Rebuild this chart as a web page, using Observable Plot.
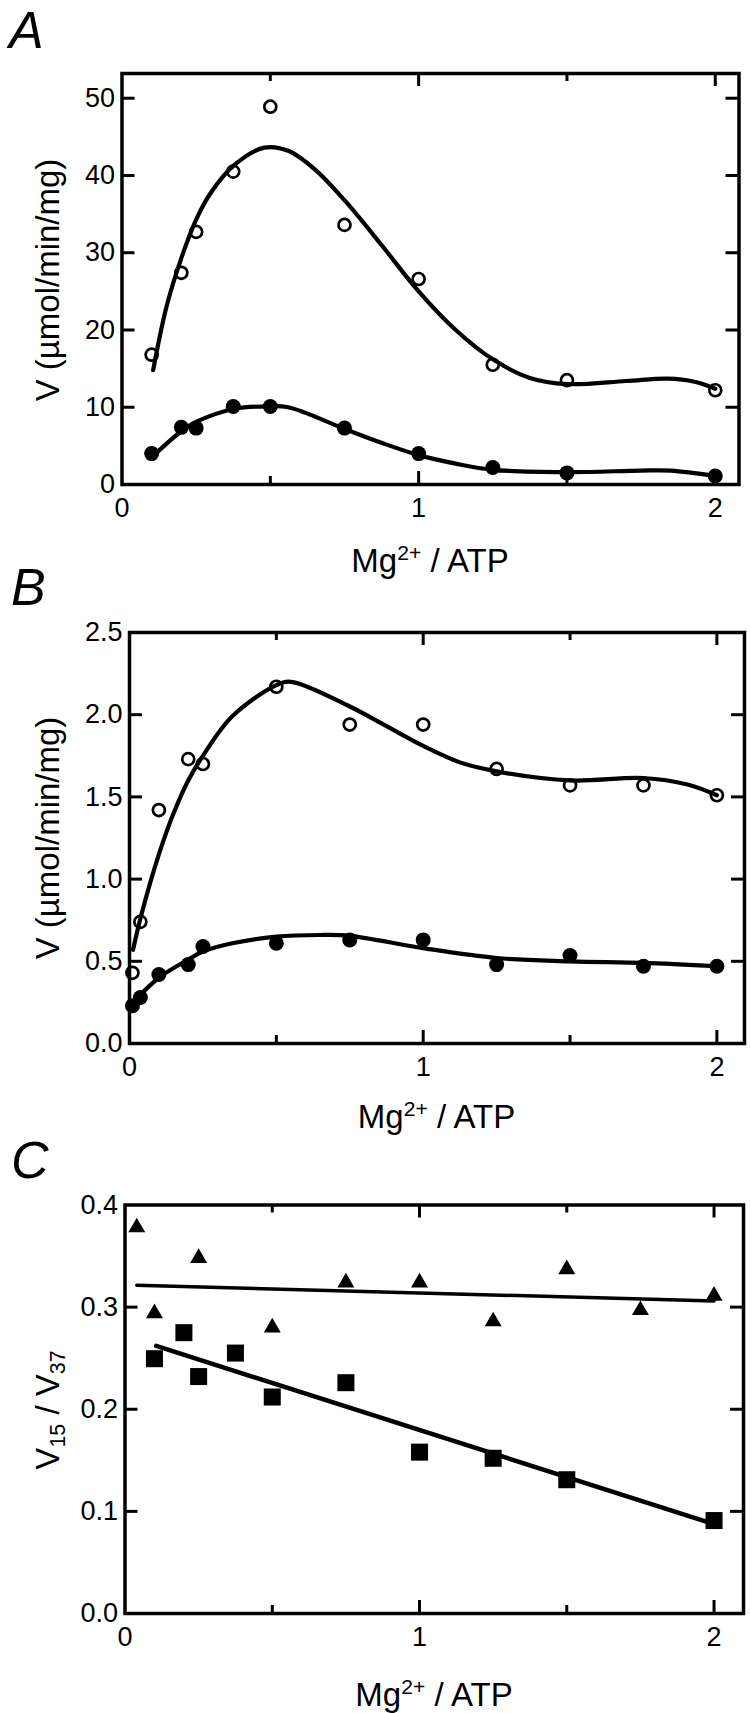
<!DOCTYPE html>
<html><head><meta charset="utf-8">
<script src="https://cdn.jsdelivr.net/npm/d3@7"></script>
<script src="https://cdn.jsdelivr.net/npm/@observablehq/plot@0.6"></script>
<style>
body{margin:0;background:#fff;}
#root{position:relative;width:750px;height:1713px;font-family:"Liberation Sans",Arial,sans-serif;color:#000;overflow:hidden;}
.letter{position:absolute;font-style:italic;font-size:52px;line-height:1;white-space:nowrap;}
.xlab{position:absolute;font-size:33px;line-height:1;white-space:nowrap;transform:translateX(-50%);}
.ylab{position:absolute;font-size:33px;line-height:1;white-space:nowrap;transform:translate(-50%,-50%) rotate(-90deg);}
.sup{font-size:0.64em;position:relative;top:-0.55em;}
.sub{font-size:0.65em;position:relative;top:0.3em;}
</style>
</head>
<body>
<div id="root"></div>
<script>
// ---------- Panel A data ----------
const xA = [0.1, 0.2, 0.25, 0.375, 0.5, 0.75, 1.0, 1.25, 1.5, 2.0];
const openA = [16.8, 27.4, 32.7, 40.5, 48.9, 33.6, 26.6, 15.5, 13.5, 12.2];
const filledA = [4.0, 7.4, 7.3, 10.1, 10.1, 7.3, 4.0, 2.2, 1.5, 1.1];
const fitOpenAx = [0.105, 0.15, 0.2, 0.25, 0.3, 0.38, 0.48, 0.56, 0.65, 0.75, 0.875, 1.0, 1.125, 1.25, 1.375, 1.5, 1.7, 1.84, 1.93, 2.0];
const fitOpenAy = [14.8, 23.0, 29.3, 34.3, 37.8, 41.4, 43.6, 43.2, 40.8, 36.8, 31.0, 25.0, 20.0, 16.2, 13.8, 13.0, 13.4, 13.7, 13.3, 12.4];
const fitFilledAx = [0.105, 0.2, 0.25, 0.38, 0.48, 0.56, 0.75, 0.875, 1.0, 1.125, 1.25, 1.5, 1.75, 1.85, 2.0];
const fitFilledAy = [3.7, 6.9, 8.1, 9.8, 10.1, 10.0, 7.2, 5.4, 3.8, 2.7, 1.9, 1.6, 1.8, 1.8, 1.1];
const yTicksA = [0, 10, 20, 30, 40, 50];
const yTickLabelsA = ["0", "10", "20", "30", "40", "50"];

// ---------- Panel B data ----------
const xB = [0.01, 0.037, 0.1, 0.2, 0.25, 0.5, 0.75, 1.0, 1.25, 1.5, 1.75, 2.0];
const openB = [0.43, 0.74, 1.42, 1.73, 1.70, 2.17, 1.94, 1.94, 1.67, 1.57, 1.57, 1.51];
const filledB = [0.23, 0.28, 0.42, 0.48, 0.59, 0.61, 0.63, 0.63, 0.48, 0.535, 0.47, 0.47];
const fitOpenBx = [0.012, 0.04, 0.1, 0.15, 0.2, 0.25, 0.35, 0.5, 0.55, 0.75, 0.875, 1.0, 1.125, 1.25, 1.5, 1.75, 1.9, 2.0];
const fitOpenBy = [0.57, 0.78, 1.15, 1.40, 1.60, 1.75, 1.99, 2.18, 2.20, 2.05, 1.93, 1.81, 1.71, 1.655, 1.60, 1.615, 1.575, 1.51];
const fitFilledBx = [0.012, 0.1, 0.2, 0.25, 0.35, 0.5, 0.65, 0.75, 1.0, 1.25, 1.5, 1.75, 2.0];
const fitFilledBy = [0.25, 0.40, 0.51, 0.56, 0.61, 0.65, 0.66, 0.655, 0.58, 0.52, 0.50, 0.49, 0.47];
const yTicksB = [0, 0.5, 1.0, 1.5, 2.0, 2.5];
const yTickLabelsB = ["0.0", "0.5", "1.0", "1.5", "2.0", "2.5"];

// ---------- Panel C data ----------
const xTri = [0.04, 0.1, 0.25, 0.5, 0.75, 1.0, 1.25, 1.5, 1.75, 2.0];
const tri = [0.378, 0.294, 0.348, 0.280, 0.324, 0.324, 0.286, 0.337, 0.297, 0.311];
const xSq = [0.1, 0.2, 0.25, 0.375, 0.5, 0.75, 1.0, 1.25, 1.5, 2.0];
const sq = [0.2495, 0.275, 0.232, 0.255, 0.212, 0.226, 0.158, 0.152, 0.131, 0.091];
const fitTriX = [0.04, 2.0];
const fitTriY = [0.3215, 0.306];
const fitSqX = [0.106, 2.0];
const fitSqY = [0.262, 0.0875];
const yTicksC = [0, 0.1, 0.2, 0.3, 0.4];
const yTickLabelsC = ["0.0", "0.1", "0.2", "0.3", "0.4"];

// ---------- shared tick values ----------
const xTickValues = [0, 1, 2];
const xTickLabels = ["0", "1", "2"];
const xMajorTicks = [1, 2];
const xMinorTicks = [0.5, 1.5];

const zip = (xs, ys) => xs.map((x, i) => ({x, y: ys[i]}));

function panel({top, height, mL, mR, mT, mB, xDomain, yDomain, yTicks, yLabels, yInner, marks}) {
  const fh = height - mT - mB;
  const fw = 750 - mL - mR;
  const major = 13, minor = 8, ylen = 13;
  const svg = Plot.plot({
    width: 750, height,
    marginLeft: mL, marginRight: mR, marginTop: mT, marginBottom: mB,
    x: {domain: xDomain},
    y: {domain: yDomain},
    style: {fontFamily: "'Liberation Sans', Arial, sans-serif", color: "#000", background: "transparent", overflow: "visible"},
    marks: [
      Plot.axisX(xTickValues, {tickSize: 0, tickPadding: 13, fontSize: 27, label: null,
        tickFormat: d => xTickLabels[xTickValues.indexOf(d)]}),
      Plot.axisY(yTicks, {tickSize: 0, tickPadding: 7, fontSize: 27, label: null,
        tickFormat: d => yLabels[yTicks.indexOf(d)]}),
      Plot.tickX(xMajorTicks, {x: d => d, insetTop: fh - major, strokeWidth: 3, stroke: "#000"}),
      Plot.tickX(xMajorTicks, {x: d => d, insetBottom: fh - major, strokeWidth: 3, stroke: "#000"}),
      Plot.tickX(xMinorTicks, {x: d => d, insetTop: fh - minor, strokeWidth: 3, stroke: "#000"}),
      Plot.tickX(xMinorTicks, {x: d => d, insetBottom: fh - minor, strokeWidth: 3, stroke: "#000"}),
      Plot.tickY(yInner, {y: d => d, insetRight: fw - ylen, strokeWidth: 3, stroke: "#000"}),
      Plot.tickY(yInner, {y: d => d, insetLeft: fw - ylen, strokeWidth: 3, stroke: "#000"}),
      ...marks,
      Plot.frame({stroke: "#000", strokeWidth: 3.5})
    ]
  });
  svg.style.position = "absolute";
  svg.style.left = "0px";
  svg.style.top = top + "px";
  return svg;
}

const root = document.getElementById("root");

// Panel A
root.appendChild(panel({
  top: 0, height: 540, mL: 121.5, mR: 11.5, mT: 73, mB: 56,
  xDomain: [0, 2.08], yDomain: [0, 53.2],
  yTicks: yTicksA, yLabels: yTickLabelsA, yInner: yTicksA.slice(1),
  marks: [
    Plot.dot(zip(xA, openA), {x: "x", y: "y", r: 6, stroke: "#000", strokeWidth: 2.7, fill: "none"}),
    Plot.dot(zip(xA, filledA), {x: "x", y: "y", r: 7.5, fill: "#000", stroke: "none"}),
    Plot.line(zip(fitOpenAx, fitOpenAy), {x: "x", y: "y", curve: "catmull-rom", stroke: "#000", strokeWidth: 4.2}),
    Plot.line(zip(fitFilledAx, fitFilledAy), {x: "x", y: "y", curve: "catmull-rom", stroke: "#000", strokeWidth: 4.2})
  ]
}));

// Panel B
root.appendChild(panel({
  top: 560, height: 540, mL: 129, mR: 6, mT: 72, mB: 57,
  xDomain: [0, 2.094], yDomain: [0, 2.5],
  yTicks: yTicksB, yLabels: yTickLabelsB, yInner: yTicksB.slice(1, -1),
  marks: [
    Plot.dot(zip(xB, openB), {x: "x", y: "y", r: 6, stroke: "#000", strokeWidth: 2.7, fill: "none"}),
    Plot.dot(zip(xB, filledB), {x: "x", y: "y", r: 7.5, fill: "#000", stroke: "none"}),
    Plot.line(zip(fitOpenBx, fitOpenBy), {x: "x", y: "y", curve: "catmull-rom", stroke: "#000", strokeWidth: 4.2}),
    Plot.line(zip(fitFilledBx, fitFilledBy), {x: "x", y: "y", curve: "catmull-rom", stroke: "#000", strokeWidth: 4.2})
  ]
}));

// Panel C
root.appendChild(panel({
  top: 1130, height: 583, mL: 124.5, mR: 7, mT: 74.5, mB: 100,
  xDomain: [0, 2.1], yDomain: [0, 0.4],
  yTicks: yTicksC, yLabels: yTickLabelsC, yInner: yTicksC.slice(1, -1),
  marks: [
    Plot.dot(zip(xTri, tri), {x: "x", y: "y", symbol: "triangle", r: 6.3, fill: "#000", stroke: "none"}),
    Plot.dot(zip(xSq, sq), {x: "x", y: "y", symbol: "square", r: 9.6, fill: "#000", stroke: "none"}),
    Plot.line(zip(fitTriX, fitTriY), {x: "x", y: "y", stroke: "#000", strokeWidth: 3.5}),
    Plot.line(zip(fitSqX, fitSqY), {x: "x", y: "y", stroke: "#000", strokeWidth: 4.5})
  ]
}));

// ---------- HTML text labels ----------
function addDiv(cls, html, left, top) {
  const d = document.createElement("div");
  d.className = cls;
  d.innerHTML = html;
  d.style.left = left + "px";
  d.style.top = top + "px";
  root.appendChild(d);
}
const bl52 = 0.8465 * 52, bl33 = 0.8465 * 33;
addDiv("letter", "A", 9, 48 - bl52);
addDiv("letter", "B", 11, 605 - bl52);
addDiv("letter", "C", 11, 1178 - bl52);
const xTitle = 'Mg<span class="sup">2+</span> / ATP';
addDiv("xlab", xTitle, 430, 571.7 - bl33);
addDiv("xlab", xTitle, 436.5, 1128 - bl33);
addDiv("xlab", xTitle, 434, 1706 - bl33);
addDiv("ylab", "V (µmol/min/mg)", 46.5, 280);
addDiv("ylab", "V (µmol/min/mg)", 46.5, 838);
addDiv("ylab", 'V<span class="sub">15</span> / V<span class="sub">37</span>', 46.5, 1410);
</script>
</body></html>
